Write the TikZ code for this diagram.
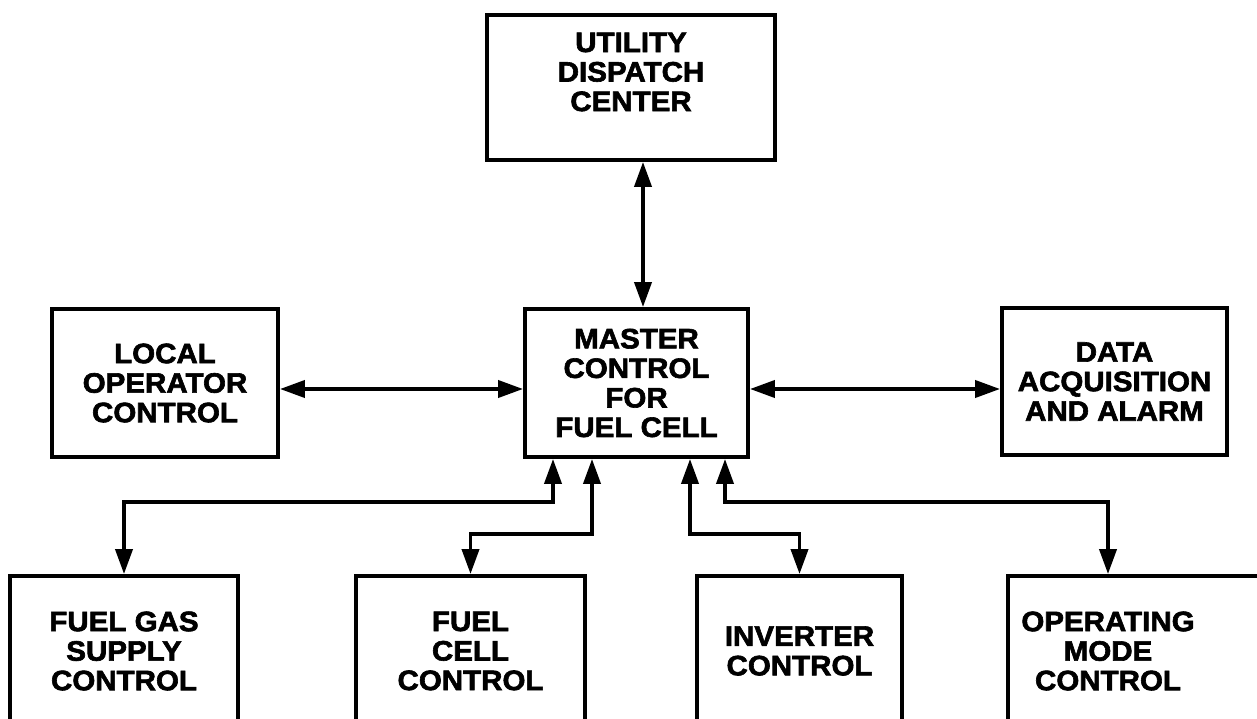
\documentclass[tikz,border=0pt]{standalone}
\usepackage{fontspec}
\newfontfamily\blockfont{Liberation Sans Bold}[FakeStretch=1.05,FakeBold=2.2]
\newcommand{\blocktext}{\blockfont\fontsize{16}{16.8}\selectfont}
\usetikzlibrary{arrows.meta,positioning}

\begin{document}
\begin{tikzpicture}[
    block/.style={draw, line width=2.2pt, align=center, font=\blocktext, inner sep=0pt, minimum height=2.96cm},
    lower/.style={block, minimum height=3cm},
    arr/.style={{Triangle[length=0.5cm,width=0.34cm]}-{Triangle[length=0.5cm,width=0.34cm]}, line width=2.2pt}
]
\useasboundingbox (0,0) rectangle (25.14,-14.38);

\node[block, minimum width=5.76cm, minimum height=2.9cm,
      label={[font=\blocktext, align=center, yshift=0.31cm]center:{UTILITY\\DISPATCH\\CENTER}}] (util) at (12.62,-1.75) {};
\node[block, minimum width=4.46cm] (master) at (12.73,-7.66) {MASTER\\CONTROL\\FOR\\FUEL CELL};
\node[block, minimum width=4.52cm] (local) at (3.30,-7.66) {LOCAL\\OPERATOR\\CONTROL};
\node[block, minimum width=4.50cm, minimum height=2.94cm] (data) at (22.29,-7.63) {DATA\\ACQUISITION\\AND ALARM};

\node[lower, minimum width=4.56cm] (gas) at (2.48,-13.02) {FUEL GAS\\SUPPLY\\CONTROL};
\node[lower, minimum width=4.58cm] (cell) at (9.41,-13.02) {FUEL\\CELL\\CONTROL};
\node[lower, minimum width=4.10cm] (inv) at (15.99,-13.02) {INVERTER\\CONTROL};
\node[lower, minimum width=5.64cm,
      label={[font=\blocktext, align=center, xshift=-0.82cm]center:{OPERATING\\MODE\\CONTROL}}] (mode) at (22.98,-13.02) {};

\draw[arr] ([xshift=0.13cm]master.north) -- ([xshift=0.13cm]master.north |- util.south);
\draw[arr] ([yshift=-0.12cm]master.west) -- ([yshift=-0.12cm]master.west -| local.east);
\draw[arr] ([yshift=-0.12cm]master.east) -- ([yshift=-0.12cm]master.east -| data.west);

\draw[arr] ([xshift=-1.67cm]master.south) -- ++(0,-0.86) -| (gas.north);
\draw[arr] ([xshift=-0.89cm]master.south) -- ++(0,-1.5) -| (cell.north);
\draw[arr] ([xshift=1.07cm]master.south) -- ++(0,-1.5) -| (inv.north);
\draw[arr] ([xshift=1.77cm]master.south) -- ++(0,-0.86) -| ([xshift=-0.82cm]mode.north);
\end{tikzpicture}
\end{document}
